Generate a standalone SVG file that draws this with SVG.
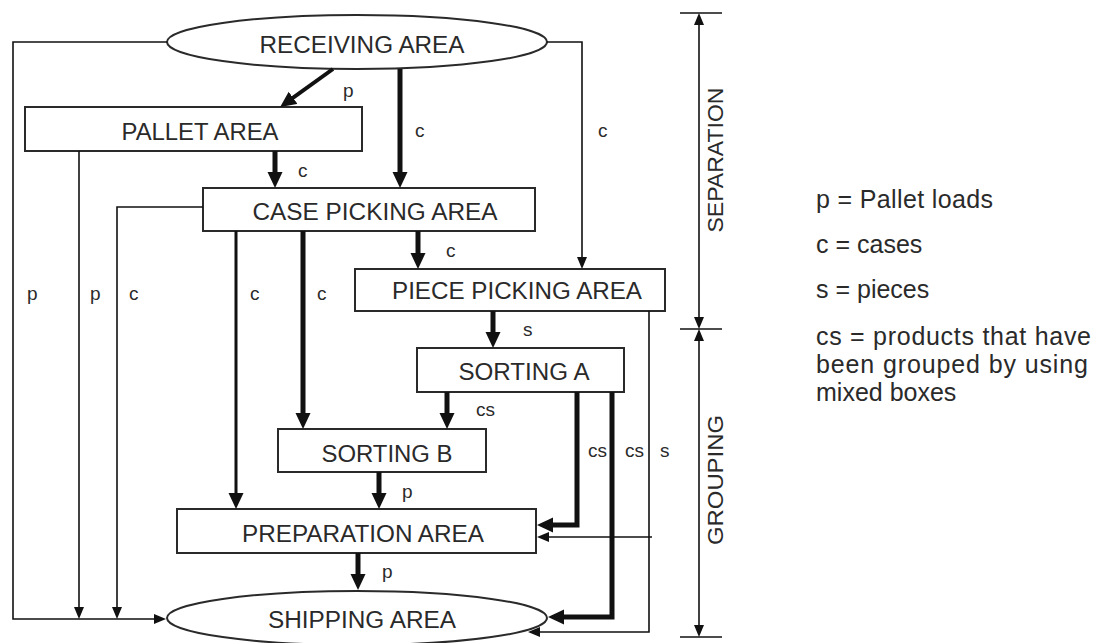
<svg xmlns="http://www.w3.org/2000/svg" width="1094" height="643" viewBox="0 0 1094 643">
<style>
.node{fill:#fff;stroke:#2a2a2a;stroke-width:2}
.lbl{font-family:"Liberation Sans",Arial,sans-serif;font-size:23px;fill:#2a2a2a;text-anchor:middle}
.fl{font-family:"Liberation Sans",Arial,sans-serif;font-size:19px;fill:#2a2a2a}
.leg{font-family:"Liberation Sans",Arial,sans-serif;font-size:25px;fill:#2a2a2a}
.thick{fill:none;stroke:#111;stroke-width:5;marker-end:url(#ah)}
.thin{fill:none;stroke:#111;stroke-width:1.6;marker-end:url(#at)}
.dim{fill:none;stroke:#111;stroke-width:1.6;marker-start:url(#ad);marker-end:url(#ad)}
.tick{stroke:#111;stroke-width:1.6}
</style>
<defs>
<marker id="ah" markerUnits="userSpaceOnUse" markerWidth="16" markerHeight="16" viewBox="0 0 16 16" refX="8" refY="8" orient="auto"><path d="M0,0.5 L16,8 L0,15.5 z" fill="#111"/></marker>
<marker id="at" markerUnits="userSpaceOnUse" markerWidth="12" markerHeight="10" viewBox="0 0 12 10" refX="8" refY="5" orient="auto"><path d="M0,0 L12,5 L0,10 z" fill="#111"/></marker>
<marker id="ad" markerUnits="userSpaceOnUse" markerWidth="12" markerHeight="10" viewBox="0 0 12 10" refX="8" refY="5" orient="auto-start-reverse"><path d="M0,0 L12,5 L0,10 z" fill="#111"/></marker>
</defs>
<rect width="1094" height="643" fill="#fff"/>
<g id="receiving"><ellipse class="node" cx="357" cy="42" rx="190" ry="27"/><text class="lbl" x="362" y="53" textLength="205" lengthAdjust="spacingAndGlyphs">RECEIVING AREA</text></g>
<g id="pallet"><rect class="node" x="25" y="107" width="337" height="44"/><text class="lbl" x="200" y="140" textLength="157" lengthAdjust="spacingAndGlyphs">PALLET AREA</text></g>
<g id="casepicking"><rect class="node" x="203" y="188" width="332" height="43"/><text class="lbl" x="375" y="220" textLength="245" lengthAdjust="spacingAndGlyphs">CASE PICKING AREA</text></g>
<g id="piecepicking"><rect class="node" x="355" y="269" width="310" height="42"/><text class="lbl" x="517" y="299" textLength="250" lengthAdjust="spacingAndGlyphs">PIECE PICKING AREA</text></g>
<g id="sortinga"><rect class="node" x="417" y="348" width="207" height="44"/><text class="lbl" x="524" y="380" textLength="131" lengthAdjust="spacingAndGlyphs">SORTING A</text></g>
<g id="sortingb"><rect class="node" x="278" y="429" width="208" height="43"/><text class="lbl" x="387" y="462" textLength="131" lengthAdjust="spacingAndGlyphs">SORTING B</text></g>
<g id="preparation"><rect class="node" x="177" y="509" width="359" height="44"/><text class="lbl" x="363" y="542" textLength="242" lengthAdjust="spacingAndGlyphs">PREPARATION AREA</text></g>
<g id="shipping"><ellipse class="node" cx="357" cy="618" rx="190" ry="27"/><text class="lbl" x="362" y="628" textLength="188" lengthAdjust="spacingAndGlyphs">SHIPPING AREA</text></g>
<g id="connectors">
<path class="thick" style="stroke-width:4" d="M333,69 L286.6,102.4"/>
<path class="thick" d="M400,69 V180"/>
<path class="thick" d="M275,151 V180"/>
<path class="thick" style="stroke-width:3" d="M236,231 V501"/>
<path class="thick" d="M303,231 V421"/>
<path class="thick" d="M418,231 V261"/>
<path class="thick" d="M493,311 V340"/>
<path class="thick" d="M447,392 V421"/>
<path class="thick" d="M577,392 V525 H545"/>
<path class="thick" d="M612,392 V617 H556"/>
<path class="thick" d="M379,472 V501"/>
<path class="thick" d="M358,553 V582"/>
<path class="thin" d="M167,42 H13 V619 H162"/>
<path class="thin" d="M79,151 V615"/>
<path class="thin" d="M203,207 H117 V615"/>
<path class="thin" d="M547,42 H582 V265"/>
<path class="thin" d="M649,311 V632 H532"/>
<path class="thin" d="M652,537 H541"/>
<text class="fl" x="343" y="97">p</text>
<text class="fl" x="415" y="137">c</text>
<text class="fl" x="598" y="137">c</text>
<text class="fl" x="298" y="177">c</text>
<text class="fl" x="27" y="300">p</text>
<text class="fl" x="90" y="300">p</text>
<text class="fl" x="129" y="300">c</text>
<text class="fl" x="250" y="300">c</text>
<text class="fl" x="317" y="300">c</text>
<text class="fl" x="446" y="257">c</text>
<text class="fl" x="523" y="336">s</text>
<text class="fl" x="476" y="416">cs</text>
<text class="fl" x="588" y="457">cs</text>
<text class="fl" x="625" y="457">cs</text>
<text class="fl" x="660" y="457">s</text>
<text class="fl" x="402" y="498">p</text>
<text class="fl" x="382" y="578">p</text>
</g>
<g id="phases">
<line class="tick" x1="680" y1="13" x2="722" y2="13"/>
<line class="tick" x1="680" y1="329" x2="722" y2="329"/>
<line class="tick" x1="680" y1="637" x2="722" y2="637"/>
<path class="dim" d="M699,17 V325"/>
<path class="dim" d="M699,333 V633"/>
<text class="lbl" style="font-size:22px" transform="translate(723,160) rotate(-90)" textLength="145" lengthAdjust="spacingAndGlyphs">SEPARATION</text>
<text class="lbl" style="font-size:22px" transform="translate(723,480) rotate(-90)" textLength="130" lengthAdjust="spacingAndGlyphs">GROUPING</text>
</g>
<g id="legend">
<text class="leg" x="816" y="208" textLength="177" lengthAdjust="spacing">p = Pallet loads</text>
<text class="leg" x="816" y="253">c = cases</text>
<text class="leg" x="816" y="298">s = pieces</text>
<text class="leg" x="816" y="345" textLength="275" lengthAdjust="spacing">cs = products that have</text>
<text class="leg" x="816" y="373" textLength="272" lengthAdjust="spacing">been grouped by using</text>
<text class="leg" x="816" y="401">mixed boxes</text>
</g>
</svg>
